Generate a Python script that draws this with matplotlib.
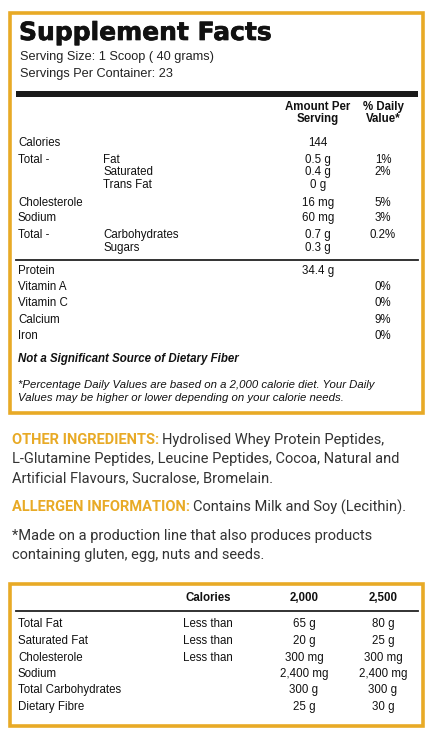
import matplotlib.pyplot as plt
from matplotlib.patches import Rectangle
import matplotlib.patheffects as pe

# Inhalte des Etiketts
serving_lines = ["Serving Size: 1 Scoop ( 40 grams)", "Servings Per Container: 23"]

fact_labels = ["Calories", "Total -", "", "", "Cholesterole", "Sodium", "Total -", ""]
fact_sub = ["", "Fat", "Saturated", "Trans Fat", "", "", "Carbohydrates", "Sugars"]
fact_amount = ["144", "0.5 g", "0.4 g", "0 g", "16 mg", "60 mg", "0.7 g", "0.3 g"]
fact_dv = ["", "1%", "2%", "", "5%", "3%", "0.2%", ""]
fact_y = [143, 160, 172, 185, 203, 218, 235, 248]

vit_labels = ["Protein", "Vitamin A", "Vitamin C", "Calcium", "Iron"]
vit_amount = ["34.4 g", "", "", "", ""]
vit_dv = ["", "0%", "0%", "9%", "0%"]
vit_y = [271, 287, 303, 320, 336]

dv_cols = ["Calories", "2,000", "2,500"]
dv_labels = ["Total Fat", "Saturated Fat", "Cholesterole", "Sodium",
             "Total Carbohydrates", "Dietary Fibre"]
dv_cond = ["Less than", "Less than", "Less than", "", "", ""]
dv_2000 = ["65 g", "20 g", "300 mg", "2,400 mg", "300 g", "25 g"]
dv_2500 = ["80 g", "25 g", "300 mg", "2,400 mg", "300 g", "30 g"]
dv_y = [624, 641, 658, 674, 690, 707]

gold = '#E8AA26'
grey = '#333333'
arial = 'Liberation Sans'
din = 'Roboto'
fs_din = 10.5

fig = plt.figure(figsize=(4.33, 7.43), dpi=100)
ax = fig.add_axes([0, 0, 1, 1])
ax.set_xlim(0, 433)
ax.set_ylim(743, 0)
ax.axis('off')

# Rahmen
ax.add_patch(Rectangle((9.5, 13), 413, 400, fill=False, ec=gold, lw=2.6))
ax.add_patch(Rectangle((9.5, 584), 413, 142, fill=False, ec=gold, lw=2.6))

# Titel
ax.text(19, 33, "Supplement Facts", fontsize=18, fontweight='bold', family='DejaVu Sans',
        va='center', ha='left', color='#111111',
        path_effects=[pe.withStroke(linewidth=0.5, foreground='#111111')])
for i, s in enumerate(serving_lines):
    ax.text(20, 57 + i * 17, s, fontsize=9.2, family=arial, va='center', color='#222222')

ax.add_patch(Rectangle((16, 91), 402, 6, color='#1a1a1a', lw=0))

# Kopfzeile
ax.text(318, 113, "Amount Per\nServing", fontsize=8.3, family=arial, fontweight='bold',
        ha='center', va='center', linespacing=1.05, color='#111111')
ax.text(383, 113, "% Daily\nValue*", fontsize=8.3, family=arial, fontweight='bold',
        ha='center', va='center', linespacing=1.05, color='#111111')

for lab, sub, amt, dv, y in zip(fact_labels, fact_sub, fact_amount, fact_dv, fact_y):
    ax.text(18, y, lab, fontsize=8.3, family=arial, va='center', color='#111111')
    ax.text(103, y, sub, fontsize=8.3, family=arial, va='center', color='#111111')
    ax.text(318, y, amt, fontsize=8.3, family=arial, va='center', ha='center', color='#111111')
    ax.text(383, y, dv, fontsize=8.3, family=arial, va='center', ha='center', color='#111111')

ax.plot([16, 418], [260, 260], color='#222222', lw=1.3)

for lab, amt, dv, y in zip(vit_labels, vit_amount, vit_dv, vit_y):
    ax.text(18, y, lab, fontsize=8.3, family=arial, va='center', color='#111111')
    ax.text(318, y, amt, fontsize=8.3, family=arial, va='center', ha='center', color='#111111')
    ax.text(383, y, dv, fontsize=8.3, family=arial, va='center', ha='center', color='#111111')

ax.text(18, 359, "Not a Significant Source of Dietary Fiber", fontsize=8.3, family=arial,
        fontweight='bold', style='italic', va='center', color='#111111')
ax.text(18, 385, "*Percentage Daily Values are based on a 2,000 calorie diet. Your Daily",
        fontsize=8.2, family=arial, style='italic', va='center', color='#111111')
ax.text(18, 398, "Values may be higher or lower depending on your calorie needs.",
        fontsize=8.2, family=arial, style='italic', va='center', color='#111111')

# Zutaten
fig.canvas.draw()
renderer = fig.canvas.get_renderer()


def mixed(y, head, rest):
    t = ax.text(12, y, head, fontsize=fs_din, family=din, fontweight='bold', color=gold, va='center')
    bb = t.get_window_extent(renderer=renderer)
    x0 = ax.transData.inverted().transform((bb.x1, 0))[0]
    ax.text(x0 + 3, y, rest, fontsize=fs_din, family=din, color=grey, va='center')


mixed(440, "OTHER INGREDIENTS:", "Hydrolised Whey Protein Peptides,")
ax.text(12, 459, "L-Glutamine Peptides, Leucine Peptides, Cocoa, Natural and",
        fontsize=fs_din, family=din, color=grey, va='center')
ax.text(12, 478, "Artificial Flavours, Sucralose, Bromelain.",
        fontsize=fs_din, family=din, color=grey, va='center')
mixed(507, "ALLERGEN INFORMATION:", "Contains Milk and Soy (Lecithin).")
ax.text(12, 536, "*Made on a production line that also produces products",
        fontsize=fs_din, family=din, color=grey, va='center')
ax.text(12, 555, "containing gluten, egg, nuts and seeds.",
        fontsize=fs_din, family=din, color=grey, va='center')

# Tagesbedarf-Tabelle
for x, c in zip([208, 304, 383], dv_cols):
    ax.text(x, 598, c, fontsize=8.3, family=arial, fontweight='bold', ha='center',
            va='center', color='#111111')
ax.plot([16, 418], [611, 611], color='#222222', lw=1.3)

for lab, cond, a, b, y in zip(dv_labels, dv_cond, dv_2000, dv_2500, dv_y):
    ax.text(18, y, lab, fontsize=8.3, family=arial, va='center', color='#111111')
    ax.text(183, y, cond, fontsize=8.3, family=arial, va='center', color='#111111')
    ax.text(304, y, a, fontsize=8.3, family=arial, va='center', ha='center', color='#111111')
    ax.text(383, y, b, fontsize=8.3, family=arial, va='center', ha='center', color='#111111')

fig.savefig("out.png", dpi=100)
